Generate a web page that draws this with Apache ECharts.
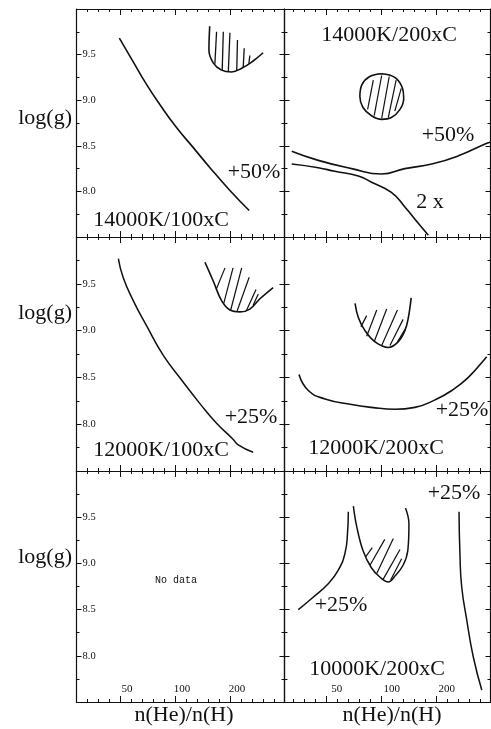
<!DOCTYPE html>
<html><head><meta charset="utf-8">
<script src="https://cdn.jsdelivr.net/npm/echarts@6/dist/echarts.min.js"></script>
<style>html,body{margin:0;padding:0;background:#fff}#c{width:491px;height:729px}</style>
</head><body><div id="c"></div>
<script>
// ---------- data (x = n(He)/n(H), y = log(g)) ----------
const xTickLabels = [50, 100, 200];
const yTickLabels = [8.0, 8.5, 9.0, 9.5];
const xRangeLeft = [28.9, 398];
const xRangeRight = [29.4, 394];
const yRange = [7.5, 10];

// panel 1: 14000K/100xC
const p1Line = [[49.6,9.68],[59.1,9.42],[70,9.17],[82.8,8.95],[102,8.70],[126,8.48],[155.5,8.26],[200,8.01],[255,7.79]];
const p1Region = [[155,9.81],[153.5,9.55],[162,9.41],[180,9.33],[204,9.31],[232,9.35],[268,9.43],[304,9.52]];
const p1Hatch = [
  [[169,9.75],[165.5,9.40]],
  [[184,9.75],[181.5,9.33]],
  [[200,9.74],[196,9.31]],
  [[220,9.66],[218,9.33]],
  [[239.5,9.57],[236.5,9.36]],
  [[257,9.49],[254,9.40]]
];
// panel 2: 14000K/200xC
const p2Circle = [[100,9.29],[118,9.25],[130,9.13],[132,9.02],[126,8.90],[113,8.81],[100,8.79],[88,8.83],[79,8.92],[76,9.04],[78,9.17],[86,9.26],[100,9.29]];
const p2Hatch = [
  [[83.8,8.90],[90,9.22]],
  [[91,8.83],[100,9.27]],
  [[100,8.80],[110,9.26]],
  [[108.7,8.81],[120,9.22]],
  [[118,8.88],[128,9.13]]
];
const p2Line50 = [[32.2,8.44],[45,8.34],[68.5,8.25],[100,8.19],[134,8.25],[188,8.30],[263,8.39],[368,8.52],[392,8.54]];
const p2Line2x = [[32.2,8.30],[45,8.26],[55.5,8.22],[74.5,8.17],[88,8.10],[113,7.99],[134,7.83],[158.6,7.65],[180,7.52]];
// panel 3: 12000K/100xC
const p3Line = [[49,9.77],[52,9.57],[59.1,9.32],[70,9.05],[86,8.74],[109,8.47],[137,8.22],[169,8.01],[208,7.84],[222,7.78],[268,7.70]];
const p3Region = [[146,9.73],[162,9.53],[180,9.32],[200,9.22],[227,9.20],[257,9.23],[292,9.34],[345,9.46]];
const p3Hatch = [
  [[169,9.45],[188,9.67]],
  [[185,9.29],[208,9.67]],
  [[202,9.22],[232,9.67]],
  [[219,9.21],[255,9.57]],
  [[247,9.22],[278,9.44]],
  [[268,9.27],[286,9.39]]
];
// panel 4: 12000K/200xC
const p4Region = [[71.5,9.29],[74.5,9.14],[81,9.0],[92,8.88],[108.7,8.82],[123,8.88],[134,9.0],[140,9.14],[145,9.35]];
const p4Hatch = [
  [[77,9.04],[82.8,9.16]],
  [[82.8,8.94],[94,9.22]],
  [[91,8.88],[106.5,9.23]],
  [[100,8.84],[122,9.22]],
  [[111,8.84],[131,9.12]],
  [[122,8.88],[134,9.01]]
];
const p4Line = [[35.3,8.53],[39.7,8.36],[49,8.27],[68.5,8.21],[88,8.18],[118,8.16],[152,8.18],[196,8.26],[242,8.36],[298,8.50],[368,8.70],[375,8.72]];
// panel 6: 10000K/200xC
const p6LineA = [[35,8.50],[41.4,8.62],[51,8.78],[58,8.93],[63,9.11],[65,9.32],[65.7,9.56]];
const p6Region = [[70,9.62],[73,9.40],[79,9.14],[88,8.95],[98,8.85],[108.7,8.80],[118,8.86],[131,8.98],[139,9.14],[141,9.43],[135,9.60]];
const p6Hatch = [
  [[81.7,9.07],[88.8,9.17]],
  [[86.3,8.98],[104,9.26]],
  [[94,8.89],[115.8,9.27]],
  [[102,8.83],[126,9.15]],
  [[112,8.82],[128.6,9.05]]
];
const p6LineB = [[265,9.56],[268,9.11],[274,8.75],[292,8.39],[317,7.99],[353,7.63]];

// ---------- chart ----------
const ink = '#111';
const serif = '"Liberation Serif", "Times New Roman", serif';
const L2 = Math.log2;
const cols = [{left:76.5, width:208, xr:xRangeLeft}, {left:284.5, width:206, xr:xRangeRight}];
const rows = [{top:9, height:228},{top:237,height:234},{top:471,height:231}];
const xMajor = xTickLabels.map(L2);
function minorTicks(xr){
  const out=[]; const lo=L2(xr[0]), hi=L2(xr[1]);
  for(let k=-10;k<=20;k++){ if(k%5===0) continue; const v=xMajor[0]+k*0.2; if(v>lo && v<hi) out.push(v); }
  return out;
}
const grids=[], xAxes=[], yAxes=[], series=[];
const lineStyle = {color:ink, width:1.2};
const tickStyle = {color:ink, width:1};
for (let r=0;r<3;r++) for (let c=0;c<2;c++){
  const g = r*2+c, col=cols[c], row=rows[r];
  grids.push({left:col.left, top:row.top, width:col.width, height:row.height, containLabel:false, outerBoundsMode:'none'});
  const mk = (pos, ticks, len, showLine, label) => ({
    type:'value', gridIndex:g, position:pos, min:L2(col.xr[0]), max:L2(col.xr[1]),
    axisLine:{show:showLine, onZero:false, lineStyle},
    axisTick:{show:true, inside:true, length:len, customValues:ticks, lineStyle:tickStyle},
    axisLabel: label || {show:false},
    splitLine:{show:false}
  });
  const bottomLabel = r===2 ? {show:true, inside:true, customValues:xMajor, margin:7, padding:[0,0,0,c===0?14:20],
      formatter:v=>String(Math.round(Math.pow(2,v))), fontSize:11, fontFamily:serif, color:ink} : null;
  xAxes.push(mk('bottom', xMajor, 6, true, bottomLabel));
  xAxes.push(mk('bottom', minorTicks(col.xr), 3, false, null));
  xAxes.push(mk('top', xMajor, 6, true, null));
  xAxes.push(mk('top', minorTicks(col.xr), 3, false, null));
  const mky = (pos, label) => ({
    type:'value', gridIndex:g, position:pos, min:yRange[0], max:yRange[1], interval:0.5,
    axisLine:{show:true, onZero:false, lineStyle},
    axisTick:{show:true, inside:true, length:5, lineStyle:tickStyle},
    minorTick:{show:true, splitNumber:2, length:3, lineStyle:tickStyle},
    axisLabel: label || {show:false},
    splitLine:{show:false}
  });
  yAxes.push(mky('left', c===0 ? {show:true, inside:true, customValues:yTickLabels, margin:6,
      formatter:v=>v.toFixed(1), fontSize:10.5, fontFamily:serif, color:ink} : null));
  yAxes.push(mky('right', null));
}
function addLine(g, pts, smooth, width){
  series.push({type:'line', xAxisIndex:4*g, yAxisIndex:2*g,
    data:pts.map(p=>[L2(p[0]), p[1]]), symbol:'none', smooth:smooth,
    lineStyle:{color:ink, width:width}, silent:true, animation:false, z:3});
}
addLine(0, p1Line, 0.5, 1.6); addLine(0, p1Region, 0.4, 1.6); p1Hatch.forEach(h=>addLine(0,h,false,1.3));
addLine(1, p2Circle, 0.4, 1.6); p2Hatch.forEach(h=>addLine(1,h,false,1.2)); addLine(1, p2Line50, 0.5, 1.6); addLine(1, p2Line2x, 0.5, 1.6);
addLine(2, p3Line, 0.5, 1.5); addLine(2, p3Region, 0.4, 1.6); p3Hatch.forEach(h=>addLine(2,h,false,1.2));
addLine(3, p4Region, 0.4, 1.6); p4Hatch.forEach(h=>addLine(3,h,false,1.2)); addLine(3, p4Line, 0.5, 1.6);
addLine(5, p6LineA, 0.5, 1.5); addLine(5, p6Region, 0.4, 1.5); p6Hatch.forEach(h=>addLine(5,h,false,1.2)); addLine(5, p6LineB, 0.5, 1.5);

function txt(x, y, s, size, align, family){
  return {type:'text', x:x, y:y, z:10, silent:true,
    style:{text:s, fontSize:size||22, fontFamily:family||serif, fill:ink, align:align||'center', verticalAlign:'middle'}};
}
const graphics = [
  txt(72,118,'log(g)',22,'right'), txt(72,313,'log(g)',22,'right'), txt(72,557,'log(g)',22,'right'),
  txt(254,172,'+50%'), txt(161,220,'14000K/100xC'),
  txt(389,35,'14000K/200xC'), txt(448,135,'+50%'), txt(430,202,'2 x'),
  txt(251,417,'+25%'), txt(161,450,'12000K/100xC'),
  txt(462,410,'+25%'), txt(376,448,'12000K/200xC'),
  txt(176,580,'No data',10,'center','"Liberation Mono", monospace'),
  txt(454,493,'+25%'), txt(341,605,'+25%'), txt(377,669,'10000K/200xC'),
  txt(184,715,'n(He)/n(H)'), txt(392,715,'n(He)/n(H)')
];
const chart = echarts.init(document.getElementById('c'));
chart.setOption({animation:false, backgroundColor:'#fff', grid:grids, xAxis:xAxes, yAxis:yAxes, series:series, graphic:graphics});
</script></body></html>
